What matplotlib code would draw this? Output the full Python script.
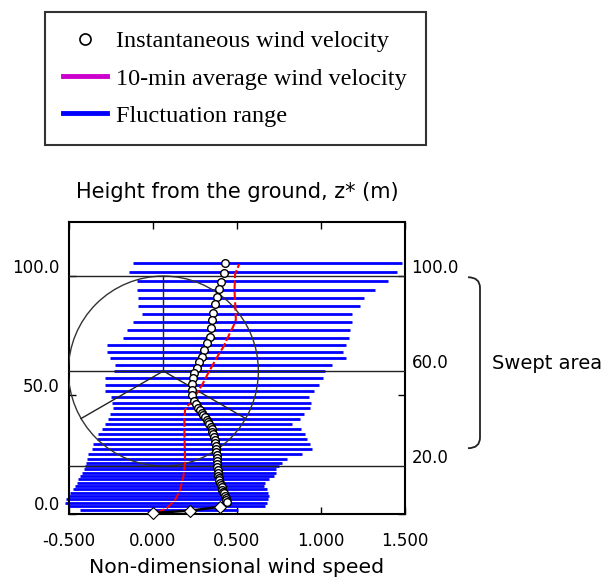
import numpy as np
import matplotlib
matplotlib.use("Agg")
import matplotlib.pyplot as plt
from matplotlib.lines import Line2D
from matplotlib.path import Path
from matplotlib.patches import PathPatch, Ellipse
import matplotlib.transforms as mtransforms

## fluctuation range bars: height (m), min and max non-dimensional speed
bar_z = [105.6, 101.8, 97.9, 94.1, 90.7, 87.5, 83.9, 80.5, 77.3, 74.1,
         70.9, 68.1, 65.3, 62.5, 60.0, 57.2, 54.1, 51.6, 49.1, 46.6,
         44.3, 41.9, 39.7, 37.6, 35.5, 33.3, 31.2, 29.1, 27.0, 24.9,
         22.8, 21.1, 20.0, 18.6, 17.2, 15.8, 14.4, 13.0, 11.6, 10.2,
         8.8, 7.4, 6.0, 4.5, 3.2, 1.5]
bar_min = [-0.115, -0.141, -0.095, -0.095, -0.086, -0.086, -0.065, -0.115, -0.155, -0.175,
           -0.274, -0.274, -0.254, -0.224, -0.230, -0.284, -0.284, -0.284, -0.250, -0.240,
           -0.234, -0.254, -0.264, -0.284, -0.304, -0.324, -0.333, -0.354, -0.363, -0.383,
           -0.393, -0.400, -0.405, -0.410, -0.420, -0.433, -0.443, -0.452, -0.462, -0.472,
           -0.492, -0.505, -0.515, -0.520, -0.505, -0.433]
bar_max = [1.482, 1.452, 1.396, 1.323, 1.254, 1.230, 1.185, 1.185, 1.174, 1.164,
           1.150, 1.130, 1.152, 1.066, 1.026, 1.012, 0.986, 0.960, 0.930, 0.940,
           0.936, 0.900, 0.877, 0.830, 0.880, 0.905, 0.920, 0.936, 0.946, 0.887,
           0.800, 0.768, 0.750, 0.734, 0.730, 0.718, 0.690, 0.669, 0.660, 0.679,
           0.688, 0.690, 0.688, 0.680, 0.669, 0.506]

## instantaneous wind velocity
inst_z = [105.6, 101.5, 97.6, 94.4, 91.3, 88.1, 84.6, 81.5, 78.0, 74.4,
          71.7, 68.8, 66.0, 63.9, 61.1, 59.0, 56.9, 54.4, 52.0, 49.9,
          47.4, 46.0, 44.5, 43.5, 42.5, 41.5, 40.5, 39.5, 38.5, 37.5,
          36.5, 35.5, 34.5, 33.5, 32.2, 31.0, 29.7, 28.5, 27.2, 26.0,
          24.7, 23.5, 22.2, 21.0, 19.7, 18.5, 17.2, 16.0, 15.0, 14.0,
          13.0, 12.0, 11.0, 10.0, 9.2, 8.5, 7.5, 6.5, 5.7, 5.0]
inst_x = [0.427, 0.422, 0.405, 0.391, 0.381, 0.371, 0.361, 0.351, 0.345, 0.338,
          0.321, 0.307, 0.292, 0.276, 0.262, 0.248, 0.238, 0.232, 0.232, 0.236,
          0.248, 0.257, 0.270, 0.280, 0.290, 0.301, 0.311, 0.320, 0.329, 0.337,
          0.344, 0.350, 0.355, 0.360, 0.365, 0.368, 0.371, 0.374, 0.376, 0.378,
          0.380, 0.381, 0.382, 0.383, 0.384, 0.386, 0.388, 0.390, 0.393, 0.396,
          0.400, 0.405, 0.409, 0.414, 0.419, 0.424, 0.429, 0.434, 0.437, 0.440]

## near-ground points
ground_z = [0.2, 1.2, 2.8]
ground_x = [0.000, 0.220, 0.400]

## 10-min average wind velocity
avg_z = [0.3, 2.2, 5.7, 9.9, 15.5, 21.3, 28.0, 34.0, 40.0, 43.6, 45.7, 47.0,
         51.3, 55.0, 59.2, 63.0, 67.0, 70.2, 75.0, 78.7, 81.5, 86.0, 94.0, 101.0, 105.0]
avg_x = [0.024, 0.083, 0.133, 0.162, 0.182, 0.192, 0.190, 0.188, 0.188, 0.192, 0.212, 0.232,
         0.268, 0.300, 0.330, 0.360, 0.392, 0.420, 0.452, 0.478, 0.494, 0.492, 0.486, 0.490, 0.514]

ref_heights = [100.0, 60.0, 20.0]
xticks = [-0.5, 0.0, 0.5, 1.0, 1.5]
xtick_labels = ['-0.500', '0.000', '0.500', '1.000', '1.500']
left_ticks = [0.0, 50.0, 100.0]

W, H = 610, 581
fig = plt.figure(figsize=(W / 100, H / 100), dpi=100)
ax = fig.add_axes([68.7 / W, 1 - 513.5 / H, (405 - 68.7) / W, (513.5 - 221.7) / H])
ax.set_xlim(-0.5, 1.5)
ax.set_ylim(0, 122.9)

# fluctuation range
ax.hlines(bar_z, bar_min, bar_max, colors='#0000ff', lw=2.0, zorder=2, clip_on=False)

# rotor disk
hub_x, hub_z, r_x, r_z = 0.063, 60.0, 0.565, 40.0
ax.add_patch(Ellipse((hub_x, hub_z), 2 * r_x, 2 * r_z, fill=False, ec='#333333', lw=1.0, zorder=3))
for ang in [90, 210, 330]:
    a = np.deg2rad(ang)
    ax.plot([hub_x, hub_x + r_x * np.cos(a)], [hub_z, hub_z + r_z * np.sin(a)],
            color='#222222', lw=1.0, zorder=3)

# reference heights
for h in ref_heights:
    ax.axhline(h, color='#222222', lw=1.0, zorder=3)

# 10-min average
ax.plot(avg_x, avg_z, color='red', lw=1.5, ls=(0, (4, 1.2)), zorder=4)

# instantaneous
ax.plot(ground_x + [inst_x[-1]], ground_z + [inst_z[-1]], color='black', lw=1.8, zorder=4, clip_on=False)
ax.plot(ground_x, ground_z, ls='none', marker='D', ms=6, mfc='white', mec='black', mew=0.8,
        zorder=5, clip_on=False)
ax.plot(inst_x, inst_z, ls='none', marker='o', ms=5.5, mfc='white', mec='black', mew=1.0, zorder=5)

# axes styling
for s in ax.spines.values():
    s.set_linewidth(1.5)
ax.set_xticks(xticks)
ax.set_xticklabels(xtick_labels)
ax.tick_params(axis='x', direction='in', top=True, bottom=True, length=5, width=1,
               labelsize=12, pad=13)
ax.set_yticks(left_ticks)
ax.set_yticklabels([])
ax.tick_params(axis='y', direction='in', left=True, right=True, length=5, width=1)

lab_off = mtransforms.offset_copy(ax.transData, fig=fig, y=8, units='dots')
for t in left_ticks:
    ax.text(-0.5 - 8.7 / 168 * 1.0, t, f'{t:.1f}', transform=lab_off, ha='right', va='center',
            fontsize=12, clip_on=False)
for t in ref_heights:
    ax.text(1.5 + 6.5 / 168, t, f'{t:.1f}', transform=lab_off, ha='left', va='center',
            fontsize=12, clip_on=False)

ax.set_title('Height from the ground, z* (m)', fontsize=15, pad=17)
ax.set_xlabel('Non-dimensional wind speed', fontsize=14.7, labelpad=6)

# swept area bracket
btr = mtransforms.blended_transform_factory(fig.transFigure, ax.transData)
bx, hx = 480 / W, 468 / W
verts = [(hx, 99.5), (bx, 99.5), (bx, 95.0), (bx, 32.0), (bx, 27.5), (hx, 27.5)]
codes = [Path.MOVETO, Path.CURVE3, Path.CURVE3, Path.LINETO, Path.CURVE3, Path.CURVE3]
fig.add_artist(PathPatch(Path(verts, codes), transform=btr, fill=False, ec='#222222', lw=1.3))
fig.text(492 / W, 63, 'Swept area', transform=btr, fontsize=14, va='center', ha='left')

# legend
handles = [Line2D([], [], ls='none', marker='o', ms=8, mfc='white', mec='black', mew=1.2),
           Line2D([], [], color='#cc00cc', lw=3.5),
           Line2D([], [], color='#0000ff', lw=3.5)]
labels = ['Instantaneous wind velocity', '10-min average wind velocity', 'Fluctuation range']
leg = fig.legend(handles, labels, loc='upper left', bbox_to_anchor=(45 / W, 1 - 12 / H),
                 borderaxespad=0, frameon=True, fancybox=False, edgecolor='black',
                 prop={'family': 'Liberation Serif', 'size': 17.5},
                 handlelength=1.8, handletextpad=0.38, borderpad=0.76, labelspacing=0.62)
leg.get_frame().set_linewidth(1.5)

fig.savefig('out.png', dpi=100)
